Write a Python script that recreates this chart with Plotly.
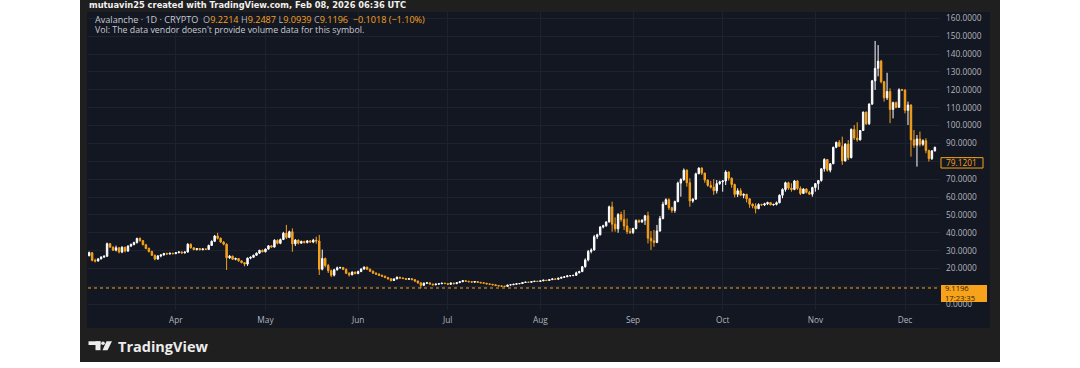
import plotly.graph_objects as go
import pandas as pd

# ---------------- data (AVAX daily candles, Mar 3 - Dec 11 2021) ----------------
dates = pd.date_range("2021-03-03", periods=284, freq="D")

opens = [
    # Mar
    27.2, 28.9, 24.6, 24.2, 25.4, 26.4, 26.9, 33.9, 32.0, 30.3, 31.6, 29.2, 31.9, 29.8, 32.6, 33.4, 34.5, 36.8, 35.6, 33.3, 31.2, 29.5, 27.4, 25.3, 27.0, 27.6, 28.4, 28.1, 28.5,
    # Apr
    28.3, 28.9, 29.3, 28.7, 29.2, 33.6, 31.6, 30.6, 31.2, 30.5, 31.0, 30.7, 32.9, 35.2, 38.2, 36.9, 34.8, 33.6, 26.0, 26.9, 25.2, 25.6, 24.3, 23.3, 22.5, 25.8, 26.3, 27.4, 28.6, 30.2,
    # May
    29.4, 30.9, 32.7, 32.0, 35.8, 34.1, 36.2, 39.8, 37.4, 40.6, 33.8, 35.9, 34.2, 35.2, 34.5, 35.5, 34.8, 35.9, 35.4, 19.6, 25.6, 21.7, 18.8, 16.3, 19.3, 20.4, 20.6, 19.5, 17.4, 16.5, 18.0,
    # Jun
    17.2, 18.3, 19.7, 20.8, 19.6, 18.5, 17.4, 16.9, 16.2, 15.7, 15.0, 14.3, 13.3, 14.2, 15.1, 14.7, 14.4, 14.0, 14.3, 13.8, 13.0, 12.0, 10.6, 11.8, 12.0, 11.3, 10.9, 11.3, 11.5, 11.8,
    # Jul
    11.6, 11.2, 11.9, 11.5, 12.1, 12.6, 13.2, 12.9, 12.6, 12.4, 12.7, 12.3, 12.0, 11.8, 11.4, 11.2, 10.9, 10.5, 10.3, 10.1, 10.0, 10.8, 10.9, 11.2, 11.5, 11.6, 12.2, 12.4, 12.3, 12.7, 12.9,
    # Aug
    12.8, 13.1, 13.5, 13.3, 13.8, 14.2, 14.0, 14.6, 15.1, 15.4, 15.9, 16.0, 16.2, 17.6, 18.3, 21.0, 24.8, 29.6, 30.4, 37.8, 38.9, 43.2, 43.9, 46.0, 54.5, 44.8, 42.2, 50.2, 47.5, 43.8, 40.7,
    # Sep
    40.2, 42.4, 46.8, 46.1, 47.0, 49.5, 37.0, 35.5, 34.6, 41.0, 48.0, 56.0, 58.5, 54.0, 52.5, 57.5, 67.8, 69.8, 75.0, 68.0, 57.8, 58.8, 73.0, 76.2, 73.4, 69.5, 66.5, 65.5, 63.5, 67.5,
    # Oct
    68.5, 69.0, 74.0, 70.5, 67.0, 61.5, 63.5, 61.0, 61.5, 59.0, 56.0, 55.0, 53.5, 55.8, 55.6, 56.2, 56.9, 55.6, 55.9, 56.8, 61.0, 64.2, 68.0, 65.0, 64.2, 69.0, 64.8, 62.0, 64.5, 62.6, 61.6,
    # Nov
    65.3, 67.5, 69.2, 75.8, 81.0, 75.0, 78.6, 87.8, 90.6, 88.4, 80.2, 89.6, 82.0, 97.8, 93.0, 92.0, 97.2, 107.5, 101.0, 112.0, 125.0, 132.0, 136.0, 124.5, 115.5, 119.0, 109.0, 112.8, 110.2, 120.0,
    # Dec
    119.8, 108.5, 111.5, 92.0, 89.0, 92.5, 89.5, 91.5, 86.0, 81.5, 85.8,
]

highs = [
    29.5, 29.0, 25.5, 25.8, 26.9, 27.3, 34.5, 34.3, 32.3, 32.8, 32.0, 32.5, 32.2, 33.0, 34.0, 35.0, 37.3, 37.5, 36.0, 33.8, 31.8, 30.0, 27.8, 27.6, 28.0, 28.8, 28.9, 29.0, 28.9,
    29.2, 29.6, 29.5, 29.6, 34.2, 34.0, 31.9, 31.5, 31.4, 31.3, 31.2, 33.4, 35.8, 38.8, 40.0, 37.4, 35.3, 34.1, 27.6, 27.2, 26.1, 25.8, 24.6, 23.6, 26.2, 26.8, 27.8, 29.0, 30.5, 30.6,
    31.2, 33.0, 33.1, 36.4, 36.3, 36.8, 40.5, 44.4, 41.2, 42.5, 36.5, 36.2, 35.6, 35.5, 35.8, 35.9, 36.6, 37.8, 38.8, 30.6, 26.2, 22.6, 19.5, 19.9, 21.1, 21.0, 20.9, 20.1, 17.9, 18.4, 18.3,
    18.8, 20.2, 21.2, 21.0, 20.0, 18.9, 17.9, 17.3, 16.6, 16.0, 15.3, 14.5, 14.5, 15.6, 15.4, 15.0, 14.7, 14.6, 14.5, 14.0, 13.3, 12.3, 12.2, 12.4, 12.1, 11.5, 11.6, 11.8, 12.0, 12.0,
    11.7, 12.1, 12.0, 12.3, 12.9, 13.6, 13.3, 13.0, 12.8, 12.9, 12.8, 12.5, 12.2, 11.9, 11.6, 11.3, 11.0, 10.7, 10.5, 10.3, 10.9, 11.1, 11.4, 11.7, 11.8, 12.4, 12.6, 12.5, 12.9, 13.1, 13.0,
    13.3, 13.7, 13.6, 14.0, 14.4, 14.3, 14.8, 15.3, 15.6, 16.1, 16.2, 16.4, 18.3, 18.8, 21.4, 25.7, 30.4, 31.3, 38.8, 39.5, 43.8, 44.5, 46.5, 55.2, 57.4, 48.6, 51.0, 51.8, 52.8, 48.0, 42.5,
    42.8, 47.5, 47.5, 47.6, 50.0, 51.8, 41.0, 41.6, 44.4, 49.4, 57.4, 59.3, 59.3, 54.6, 58.0, 68.6, 70.5, 76.0, 75.5, 70.5, 59.3, 73.6, 76.6, 76.6, 73.6, 69.8, 69.0, 70.0, 69.5, 69.2,
    69.5, 75.0, 74.3, 71.0, 67.5, 64.9, 64.9, 62.0, 61.8, 59.3, 56.5, 56.5, 56.5, 56.3, 56.8, 57.4, 57.2, 56.2, 57.5, 61.5, 64.9, 68.6, 68.6, 67.7, 69.5, 69.5, 66.0, 64.9, 64.9, 63.5, 65.8,
    67.8, 69.5, 76.1, 81.7, 81.2, 78.9, 88.2, 91.0, 91.9, 93.8, 90.1, 91.9, 98.4, 100.3, 101.8, 97.5, 107.8, 107.8, 112.4, 125.5, 147.3, 145.0, 136.7, 125.0, 129.5, 120.8, 113.4, 113.4, 120.8, 120.5,
    120.3, 113.4, 111.8, 97.5, 94.7, 96.6, 92.3, 92.9, 86.5, 86.3, 88.2,
]

lows = [
    26.8, 24.0, 23.4, 23.9, 25.1, 26.0, 26.5, 31.5, 29.8, 29.6, 28.5, 28.6, 29.0, 29.3, 32.0, 33.0, 34.0, 35.0, 33.0, 30.8, 29.0, 27.0, 24.6, 24.9, 26.3, 27.2, 27.7, 27.9, 28.0,
    28.1, 28.5, 28.4, 28.5, 29.0, 31.2, 30.2, 30.1, 30.2, 30.3, 30.4, 30.6, 32.6, 34.8, 36.3, 34.3, 33.0, 19.2, 25.4, 24.8, 24.6, 23.8, 22.9, 21.2, 21.5, 25.2, 26.0, 27.1, 28.2, 29.0,
    29.0, 30.5, 31.6, 31.8, 33.5, 33.6, 36.0, 36.5, 37.0, 29.4, 32.6, 33.5, 33.8, 34.0, 34.1, 34.4, 34.2, 33.9, 16.4, 19.0, 20.6, 17.5, 15.2, 15.6, 18.8, 19.9, 19.2, 16.9, 15.5, 16.2, 16.8,
    16.8, 18.0, 19.4, 19.2, 18.1, 17.1, 16.5, 15.8, 15.4, 14.6, 13.7, 12.7, 13.0, 14.0, 14.3, 14.1, 13.8, 13.8, 13.5, 12.4, 11.5, 8.9, 10.4, 11.5, 11.0, 10.6, 10.7, 11.0, 11.3, 11.3,
    10.9, 11.0, 11.2, 11.4, 11.9, 12.5, 12.7, 12.4, 12.1, 12.2, 12.1, 11.8, 11.6, 11.2, 11.0, 10.6, 10.3, 10.1, 9.8, 9.6, 9.9, 10.6, 10.8, 11.0, 11.3, 11.5, 12.0, 12.0, 12.2, 12.5, 12.5,
    12.6, 13.0, 13.0, 13.2, 13.6, 13.7, 13.9, 14.4, 14.9, 15.2, 15.7, 15.8, 16.1, 17.4, 18.0, 20.5, 24.0, 28.5, 30.0, 36.5, 38.5, 42.5, 43.4, 45.8, 40.6, 40.6, 40.0, 46.2, 41.6, 39.3, 39.3,
    39.3, 41.9, 45.6, 45.5, 44.4, 34.0, 30.4, 32.2, 34.2, 40.6, 47.5, 55.5, 52.8, 51.2, 51.2, 57.0, 60.2, 69.0, 65.8, 54.6, 56.8, 58.5, 72.8, 72.3, 68.0, 65.8, 64.8, 61.2, 62.0, 66.8,
    63.0, 66.7, 69.2, 65.2, 59.8, 60.0, 60.5, 59.3, 57.0, 54.0, 53.7, 50.9, 53.2, 55.0, 55.0, 55.5, 55.4, 55.2, 55.3, 56.5, 59.3, 63.0, 64.0, 63.0, 63.8, 64.0, 61.1, 61.8, 62.0, 61.1, 60.2,
    63.0, 64.0, 68.6, 74.2, 74.2, 73.8, 78.4, 87.3, 88.0, 78.0, 79.8, 80.7, 81.6, 91.9, 91.0, 91.6, 97.0, 100.3, 100.3, 111.5, 119.9, 127.5, 123.6, 113.4, 114.3, 101.3, 104.0, 109.6, 109.8, 119.3,
    106.8, 100.3, 82.6, 87.5, 77.0, 88.2, 88.6, 84.5, 79.8, 80.7, 85.5,
]

closes = [
    28.9, 24.6, 24.2, 25.4, 26.4, 26.9, 33.9, 32.0, 30.3, 31.6, 29.2, 31.9, 29.8, 32.6, 33.4, 34.5, 36.8, 35.6, 33.3, 31.2, 29.5, 27.4, 25.3, 27.0, 27.6, 28.4, 28.1, 28.5, 28.3,
    28.9, 29.3, 28.7, 29.2, 33.6, 31.6, 30.6, 31.2, 30.5, 31.0, 30.7, 32.9, 35.2, 38.2, 36.9, 34.8, 33.6, 26.0, 26.9, 25.2, 25.6, 24.3, 23.3, 22.5, 25.8, 26.3, 27.4, 28.6, 30.2, 29.4,
    30.9, 32.7, 32.0, 35.8, 34.1, 36.2, 39.8, 37.4, 40.6, 33.8, 35.9, 34.2, 35.2, 34.5, 35.5, 34.8, 35.9, 35.4, 19.6, 25.6, 21.7, 18.8, 16.3, 19.3, 20.4, 20.6, 19.5, 17.4, 16.5, 18.0, 17.2,
    18.3, 19.7, 20.8, 19.6, 18.5, 17.4, 16.9, 16.2, 15.7, 15.0, 14.3, 13.3, 14.2, 15.1, 14.7, 14.4, 14.0, 14.3, 13.8, 13.0, 12.0, 10.6, 11.8, 12.0, 11.3, 10.9, 11.3, 11.5, 11.8, 11.6,
    11.2, 11.9, 11.5, 12.1, 12.6, 13.2, 12.9, 12.6, 12.4, 12.7, 12.3, 12.0, 11.8, 11.4, 11.2, 10.9, 10.5, 10.3, 10.1, 10.0, 10.8, 10.9, 11.2, 11.5, 11.6, 12.2, 12.4, 12.3, 12.7, 12.9, 12.8,
    13.1, 13.5, 13.3, 13.8, 14.2, 14.0, 14.6, 15.1, 15.4, 15.9, 16.0, 16.2, 17.6, 18.3, 21.0, 24.8, 29.6, 30.4, 37.8, 38.9, 43.2, 43.9, 46.0, 54.5, 44.8, 42.2, 50.2, 47.5, 43.8, 40.7, 40.2,
    42.4, 46.8, 46.1, 47.0, 49.5, 37.0, 35.5, 34.6, 41.0, 48.0, 56.0, 58.5, 54.0, 52.5, 57.5, 67.8, 69.8, 75.0, 68.0, 57.8, 58.8, 73.0, 76.2, 73.4, 69.5, 66.5, 65.5, 63.5, 67.5, 68.5,
    69.0, 74.0, 70.5, 67.0, 61.5, 63.5, 61.0, 61.5, 59.0, 56.0, 55.0, 53.5, 55.8, 55.6, 56.2, 56.9, 55.6, 55.9, 56.8, 61.0, 64.2, 68.0, 65.0, 64.2, 69.0, 64.8, 62.0, 64.5, 62.6, 61.6, 65.3,
    67.5, 69.2, 75.8, 81.0, 75.0, 78.6, 87.8, 90.6, 88.4, 80.2, 89.6, 82.0, 97.8, 93.0, 92.0, 97.2, 107.5, 101.0, 112.0, 125.0, 132.0, 136.0, 124.5, 115.5, 119.0, 109.0, 112.8, 110.2, 120.0, 119.8,
    108.5, 111.5, 92.0, 89.0, 92.5, 89.5, 91.5, 86.0, 81.5, 85.8, 87.8,
]

month_ticks = ["2021-04-01", "2021-05-01", "2021-06-01", "2021-07-01", "2021-08-01",
               "2021-09-01", "2021-10-01", "2021-11-01", "2021-12-01"]
month_labels = ["Apr", "May", "Jun", "Jul", "Aug", "Sep", "Oct", "Nov", "Dec"]
price_ticks = [0, 10, 20, 30, 40, 50, 60, 70, 80, 90, 100, 110, 120, 130, 140, 150, 160]
hidden_price_labels = [10]      # covered by the last-price box in the reference

last_price = 9.1196
last_time = "17:23:35"
marker_price = 79.1201
legend_ohlc = {"O": "9.2214", "H": "9.2487", "L": "9.0939", "C": "9.1196"}
legend_change = "\u22120.1018 (\u22121.10%)"

# ---------------- styling ----------------
W, H = 1080, 368
PL, PR, PT, PB = 88, 940, 12, 310          # plot area in pixels
UP = "#ffffff"
DOWN = "#f7a21b"
NAVY = "#131722"
FRAME = "#1f1f1f"
GRID = "#1d2130"
TXT = "#b2b5be"
FONT = "Open Sans"
WIDE = "DejaVu Sans"


def px(x):
    return (x - PL) / (PR - PL)


def py(y):
    return (PB - y) / (PB - PT)


fig = go.Figure(go.Candlestick(
    x=dates, open=opens, high=highs, low=lows, close=closes,
    increasing=dict(line=dict(color=UP, width=1), fillcolor=UP),
    decreasing=dict(line=dict(color=DOWN, width=1), fillcolor=DOWN),
    whiskerwidth=0, hoverinfo="skip", showlegend=False,
))

shapes = [
    dict(type="rect", xref="paper", yref="paper", x0=px(80), x1=px(1000), y0=py(362), y1=py(0),
         fillcolor=FRAME, line=dict(width=0), layer="below"),
    dict(type="rect", xref="paper", yref="paper", x0=px(87), x1=px(990), y0=py(328), y1=py(12),
         fillcolor=NAVY, line=dict(width=0), layer="below"),
    dict(type="line", xref="paper", yref="y", x0=0, x1=1, y0=last_price, y1=last_price,
         line=dict(color=DOWN, width=1, dash="dot")),
    # last price box
    dict(type="rect", xref="paper", yref="paper", x0=px(941), x1=px(987), y0=py(302), y1=py(285),
         fillcolor=DOWN, line=dict(width=0), layer="above"),
    # marker price box
    dict(type="rect", xref="paper", yref="y", x0=px(941), x1=px(983),
         y0=marker_price - 2.9, y1=marker_price + 2.9,
         fillcolor=NAVY, line=dict(color=DOWN, width=1), layer="above"),
    # TradingView logo
    dict(type="rect", xref="paper", yref="paper", x0=px(88.5), x1=px(100.5), y0=py(345), y1=py(341.3),
         fillcolor="#ececec", line=dict(width=0)),
    dict(type="rect", xref="paper", yref="paper", x0=px(95.5), x1=px(100.5), y0=py(350.2), y1=py(341.3),
         fillcolor="#ececec", line=dict(width=0)),
    dict(type="circle", xref="paper", yref="paper", x0=px(101.2), x1=px(104.8), y0=py(345), y1=py(341.4),
         fillcolor="#ececec", line=dict(width=0)),
    dict(type="path", xref="paper", yref="paper",
         path=f"M {px(106.5)},{py(341.3)} L {px(112)},{py(341.3)} L {px(107.5)},{py(350.2)} L {px(102.5)},{py(350.2)} Z",
         fillcolor="#ececec", line=dict(width=0)),
]

legend_vals = " ".join(
    f"<span style='color:{TXT}'>{k}</span><span style='color:{DOWN}'>{v}</span>"
    for k, v in legend_ohlc.items()
)
legend_line1 = (f"<span style='color:#c8cad1'>Avalanche \u00b7 1D \u00b7 CRYPTO</span>  "
                f"{legend_vals}  <span style='color:{DOWN}'>{legend_change}</span>")

annotations = [
    dict(xref="paper", yref="paper", x=px(86.5), y=py(4.5), xanchor="left", yanchor="middle",
         text="mutuavin25 created with TradingView.com, Feb 08, 2026 06:36 UTC",
         showarrow=False, font=dict(family=WIDE, size=8.3, color="#f0f0f0", weight=600)),
    dict(xref="paper", yref="paper", x=px(92.5), y=py(20), xanchor="left", yanchor="middle",
         text=legend_line1, showarrow=False, font=dict(family=FONT, size=9.1, color=TXT)),
    dict(xref="paper", yref="paper", x=px(92.5), y=py(29.5), xanchor="left", yanchor="middle",
         text="Vol: The data vendor doesn't provide volume data for this symbol.",
         showarrow=False, font=dict(family=FONT, size=8.8, color="#c8cad1")),
    dict(xref="paper", yref="paper", x=px(943), y=py(293.3), xanchor="left", yanchor="middle",
         text=f"{last_price:.4f}<br>{last_time}", showarrow=False, align="left",
         font=dict(family=FONT, size=7.6, color="#2a1c05")),
    dict(xref="paper", yref="y", x=px(944), y=marker_price, xanchor="left", yanchor="middle",
         text=f"{marker_price:.4f}", showarrow=False,
         font=dict(family=FONT, size=8.3, color=DOWN)),
    dict(xref="paper", yref="paper", x=px(116), y=py(346), xanchor="left", yanchor="middle",
         text="TradingView", showarrow=False,
         font=dict(family=FONT, size=14.5, color="#ececec", weight=700)),
]

fig.update_layout(
    width=W, height=H,
    margin=dict(l=PL, r=W - PR, t=PT, b=H - PB, pad=0),
    paper_bgcolor="#ffffff", plot_bgcolor=NAVY,
    shapes=shapes, annotations=annotations,
    showlegend=False, hovermode=False,
    xaxis=dict(
        type="date", range=["2021-03-02 14:53", "2021-12-12 17:02"],
        tickvals=month_ticks, ticktext=month_labels,
        showgrid=True, gridcolor=GRID, gridwidth=1, zeroline=False, showline=False,
        ticks="", ticklabelstandoff=4,
        tickfont=dict(family=FONT, size=8.3, color=TXT),
        rangeslider=dict(visible=False), fixedrange=True,
    ),
    yaxis=dict(
        side="right", range=[-3.19, 163.5],
        tickvals=price_ticks,
        ticktext=["" if v in hidden_price_labels else f"{v:.4f}" for v in price_ticks],
        showgrid=True, gridcolor=GRID, gridwidth=1, zeroline=False, showline=False,
        ticks="", ticklabelstandoff=5,
        tickfont=dict(family=FONT, size=8.3, color=TXT), fixedrange=True,
    ),
)

fig.write_html(
    "out.html",
    config={"displayModeBar": False},
    post_script="document.body.style.margin='0px';document.body.style.overflow='hidden';",
)
